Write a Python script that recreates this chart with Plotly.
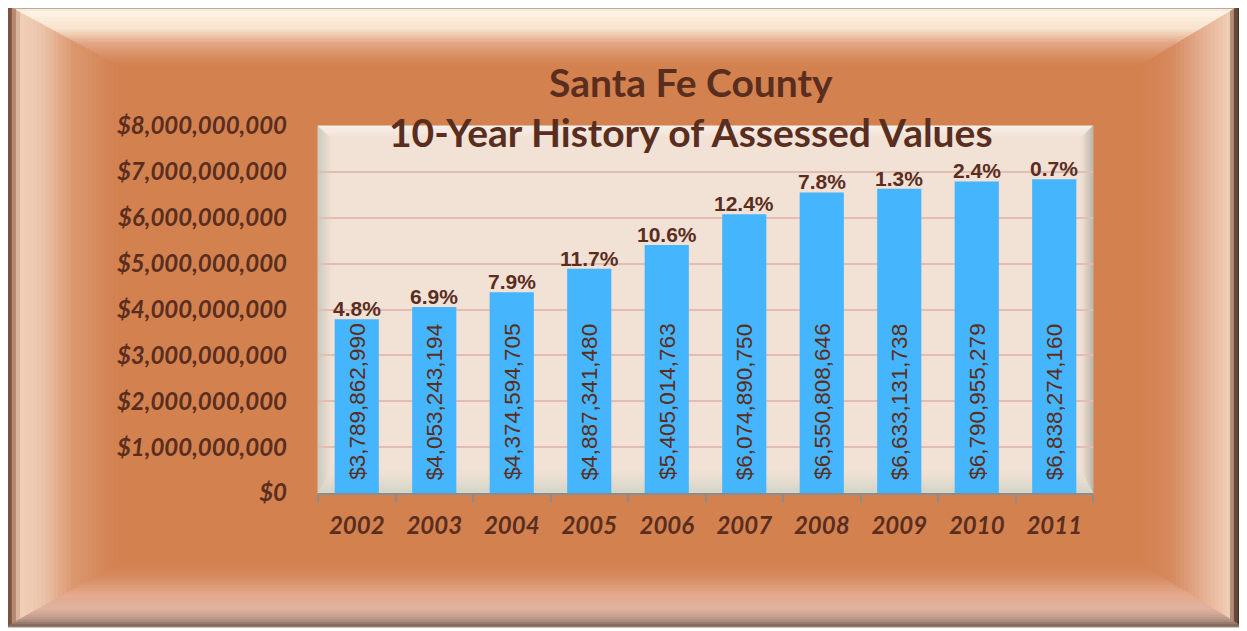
import plotly.graph_objects as go

# data
years = ['2002', '2003', '2004', '2005', '2006', '2007', '2008', '2009', '2010', '2011']
assessed = [3789862990, 4053243194, 4374594705, 4887341480, 5405014763,
            6074890750, 6550808646, 6633131738, 6790955279, 6838274160]
growth = ['4.8%', '6.9%', '7.9%', '11.7%', '10.6%', '12.4%', '7.8%', '1.3%', '2.4%', '0.7%']
y_ticks = [0, 1e9, 2e9, 3e9, 4e9, 5e9, 6e9, 7e9, 8e9]

W, H = 1247, 631
OFF = 8                                  # page body margin shifts the figure
PL, PR, PT, PB = 318, 1093, 126, 493     # plot area in screenshot pixels

BROWN = '#5a2e1f'
ORANGE = '#d3814f'
PLOT_BG = '#f2e1d5'


def px(x):
    return (x - PL) / (PR - PL)


def py(y):
    return (PB - y) / (PB - PT)


def hex_rgb(h):
    h = h.lstrip('#')
    return [int(h[i:i + 2], 16) for i in (0, 2, 4)]


def color_at(stops, t):
    for (t0, c0), (t1, c1) in zip(stops, stops[1:]):
        if t0 <= t <= t1:
            f = 0 if t1 == t0 else (t - t0) / (t1 - t0)
            a, b = hex_rgb(c0), hex_rgb(c1)
            return 'rgb(%d,%d,%d)' % tuple(round(a[i] + (b[i] - a[i]) * f) for i in range(3))
    return stops[-1][1]


def bevel(box, widths, stops, n=26):
    """Trapezoid strips that fake Excel's bevelled frame."""
    L, T, R, B = box
    wl, wt, wr, wb = widths
    out = []
    for k in range(n):
        a, b = k / n, (k + 1) / n
        m = (a + b) / 2
        o = (L + a * wl, T + a * wt, R - a * wr, B - a * wb)
        i = (L + b * wl, T + b * wt, R - b * wr, B - b * wb)
        quads = {
            'left': [(o[0], o[1]), (i[0], i[1]), (i[0], i[3]), (o[0], o[3])],
            'top': [(o[0], o[1]), (o[2], o[1]), (i[2], i[1]), (i[0], i[1])],
            'right': [(o[2], o[1]), (o[2], o[3]), (i[2], i[3]), (i[2], i[1])],
            'bottom': [(o[0], o[3]), (o[2], o[3]), (i[2], i[3]), (i[0], i[3])],
        }
        for side, pts in quads.items():
            col = color_at(stops[side], m)
            path = 'M ' + ' L '.join('%.5f,%.5f' % (px(x), py(y)) for x, y in pts) + ' Z'
            out.append(dict(type='path', xref='paper', yref='paper', path=path,
                            fillcolor=col, line=dict(color=col, width=1), layer='below'))
    return out


frame_stops = {
    'left': [(0, '#5a3525'), (0.05, '#b08068'), (0.12, '#f0d0b8'), (0.32, '#ebc4aa'),
             (0.6, '#db976f'), (1, ORANGE)],
    'top': [(0, '#6a4535'), (0.1, '#fff5e6'), (0.4, '#f8e4d0'), (0.65, '#e2a584'), (1, ORANGE)],
    'right': [(0, '#3a2a22'), (0.06, '#6a4a3a'), (0.13, '#efcdb5'), (0.35, '#e6b497'),
              (0.7, '#d68a5e'), (1, ORANGE)],
    'bottom': [(0, '#7a6058'), (0.12, '#bb9a8a'), (0.28, '#dfb3a1'), (0.5, '#e4aa8e'),
               (0.8, '#d68b61'), (1, ORANGE)],
}
inner_stops = {
    'left': [(0, '#c9cabd'), (1, PLOT_BG)],
    'top': [(0, '#f8f0ea'), (1, PLOT_BG)],
    'right': [(0, '#b9b5a6'), (1, PLOT_BG)],
    'bottom': [(0, '#d2d5c7'), (1, PLOT_BG)],
}

shapes = []
shapes.append(dict(type='rect', xref='paper', yref='paper', x0=px(7), x1=px(1242), y0=py(4), y1=py(627),
                   fillcolor=ORANGE, line=dict(color='#8f8f8f', width=1), layer='below'))
shapes += bevel((8, 5, 1241, 626), (110, 60, 100, 62), frame_stops)
shapes.append(dict(type='rect', xref='paper', yref='paper', x0=0, x1=1, y0=0, y1=1,
                   fillcolor=PLOT_BG, line=dict(width=0), layer='below'))
shapes += bevel((PL, PT, PR, PB), (14, 12, 12, 22), inner_stops, n=10)

fig = go.Figure()

fig.add_trace(go.Bar(
    x=years, y=assessed,
    marker=dict(color='#45b6fe', line=dict(width=0)),
    width=0.57,
    hoverinfo='skip',
))

annotations = []
# growth percentages above the bars (x given as category index)
for i, (val, pct) in enumerate(zip(assessed, growth)):
    annotations.append(dict(x=i, y=val, text='<b>%s</b>' % pct, showarrow=False,
                            yanchor='bottom', yshift=-3,
                            font=dict(family='Liberation Sans, Arial', size=21, color=BROWN)))
# assessed values written up the bars
for i, val in enumerate(assessed):
    annotations.append(dict(x=i, y=0, text='${:,}'.format(val), showarrow=False,
                            textangle=-90, yanchor='bottom', yshift=11,
                            font=dict(family='Liberation Sans, Arial', size=22.5, color=BROWN)))
# two-line title
annotations.append(dict(xref='paper', yref='paper', x=px(691), y=py(57), text='<b>Santa Fe County</b>',
                        showarrow=False, font=dict(family='Lato', size=39, color=BROWN)))
annotations.append(dict(xref='paper', yref='paper', x=px(691), y=py(107),
                        text='<b>10-Year History of Assessed Values</b>',
                        showarrow=False, font=dict(family='Lato', size=39, color=BROWN)))

fig.update_layout(
    width=W, height=H, autosize=False,
    margin=dict(l=PL - OFF, r=W - PR + OFF, t=PT - OFF, b=H - PB + OFF, pad=0, autoexpand=False),
    paper_bgcolor='white',
    plot_bgcolor=PLOT_BG,
    showlegend=False,
    bargap=0.43,
    shapes=shapes,
    annotations=annotations,
)

fig.update_xaxes(
    type='category',
    range=[-0.5, len(years) - 0.5],
    automargin=False,
    showgrid=False,
    showline=True, linecolor='#8c8c8c', linewidth=2,
    ticks='outside', tickson='boundaries', ticklen=8, tickwidth=2, tickcolor='#8c8c8c',
    ticklabelstandoff=10, tickangle=0,
    tickfont=dict(family='Lato', size=24, color=BROWN, style='italic', weight='bold'),
)
fig.update_yaxes(
    range=[0, 8e9],
    automargin=False,
    tickvals=y_ticks,
    ticktext=['${:,.0f}'.format(v) for v in y_ticks],
    showgrid=True, gridcolor='#e3bdb3', gridwidth=1.5,
    zeroline=False, showline=False, ticks='',
    ticklabelstandoff=30,
    tickfont=dict(family='Lato', size=24, color=BROWN, style='italic', weight='bold'),
)

fig.write_html('out.html')
